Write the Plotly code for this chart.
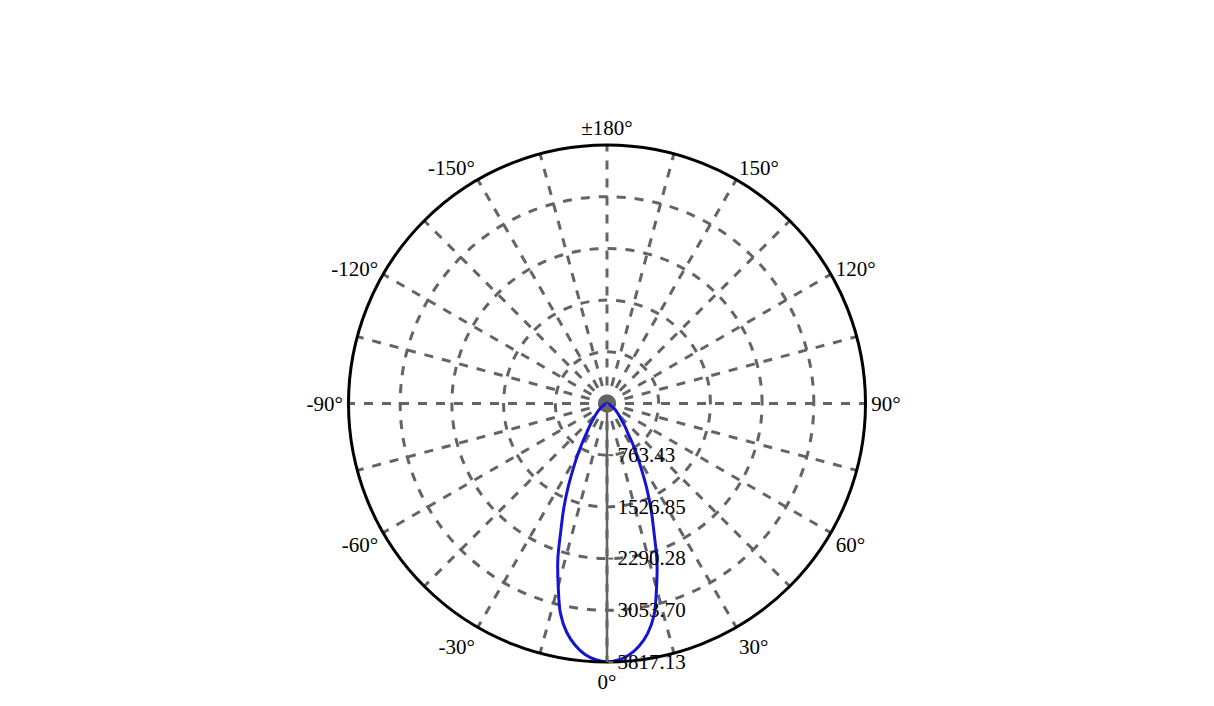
import plotly.graph_objects as go

# luminous intensity (cd) vs angle
theta = [-180, -150, -120, -90, -80, -70, -60, -55, -50, -45, -40, -37.5, -35, -32.5,
         -30, -27.5, -25, -22.5, -20, -17.5, -15, -12.5, -10, -7.5, -5, -2.5,
         0, 2.5, 5, 7.5, 10, 12.5, 15, 17.5, 20, 22.5, 25, 27.5, 30, 32.5,
         35, 37.5, 40, 45, 50, 55, 60, 70, 80, 90, 120, 150, 180]
intensity = [0, 0, 0, 0, 10, 28, 75, 115, 170, 240, 345, 425, 515, 665,
             850, 1075, 1355, 1665, 1990, 2415, 2785, 3175, 3430, 3600, 3720, 3788,
             3817.13, 3792, 3728, 3615, 3450, 3205, 2825, 2455, 2030, 1705, 1395, 1110, 890, 705,
             540, 450, 365, 255, 185, 125, 82, 32, 11, 0, 0, 0, 0]

r_max = 3817.13
r_ticks = [763.43, 1526.85, 2290.28, 3053.70, 3817.13]
r_labels = ["763.43", "1526.85", "2290.28", "3053.70", "3817.13"]

ang_vals = list(range(0, 360, 15))
ang_text = ["0°", "", "30°", "", "60°", "", "90°", "", "120°", "", "150°", "",
            "±180°", "", "-150°", "", "-120°", "", "-90°", "", "-60°", "", "-30°", ""]

grid_col = "rgb(100,100,100)"

fig = go.Figure()
fig.add_trace(go.Scatterpolar(r=intensity, theta=theta, mode="lines",
                              line=dict(color="rgb(20,20,210)", width=3, shape="spline"),
                              showlegend=False))

fig.update_layout(
    width=1214, height=706,
    paper_bgcolor="white",
    margin=dict(l=72, r=88, t=137, b=52),
    font=dict(family="Liberation Serif", size=21, color="black"),
    polar=dict(
        bgcolor="white",
        angularaxis=dict(rotation=-90, direction="counterclockwise",
                         tickmode="array", tickvals=ang_vals, ticktext=ang_text,
                         ticks="", showline=True, linecolor="black", linewidth=3,
                         showgrid=True, gridcolor=grid_col, gridwidth=2.5, griddash="dash"),
        radialaxis=dict(range=[0, r_max], angle=-90, tickangle=-90,
                        tickmode="array", tickvals=r_ticks, ticktext=r_labels,
                        showline=True, linecolor=grid_col, linewidth=2.5,
                        ticks="outside", ticklen=5, tickwidth=2, tickcolor=grid_col,
                        side="counterclockwise",
                        showgrid=True, gridcolor=grid_col, gridwidth=2.5, griddash="dash"),
    ),
)

fig.write_html("out.html")
